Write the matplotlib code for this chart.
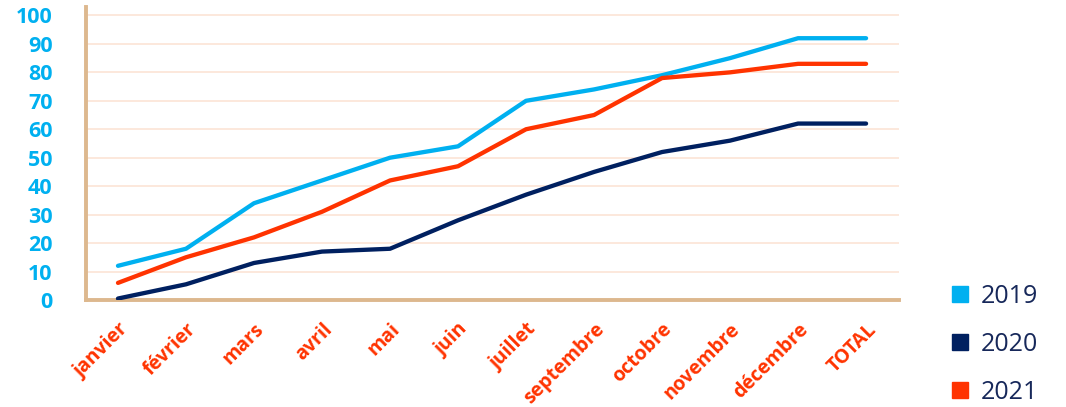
import matplotlib.pyplot as plt
from matplotlib.lines import Line2D

# data
months = ['janvier', 'février', 'mars', 'avril', 'mai', 'juin', 'juillet',
          'septembre', 'octobre', 'novembre', 'décembre', 'TOTAL']
y2019 = [12, 18, 34, 42, 50, 54, 70, 74, 79, 85, 92, 92]
y2020 = [0.5, 5.5, 13, 17, 18, 28, 37, 45, 52, 56, 62, 62]
y2021 = [6, 15, 22, 31, 42, 47, 60, 65, 78, 80, 83, 83]

c19 = '#00B0F0'
c20 = '#002060'
c21 = '#FF3300'

plt.rcParams['font.family'] = ['Open Sans', 'DejaVu Sans']

fig = plt.figure(figsize=(10.66, 4.07), dpi=100)
ax = fig.add_axes([0.0807, 0.263, 0.763, 0.72])

x = list(range(len(months)))
ax.plot(x, y2019, color=c19, lw=3.1, solid_capstyle='round', zorder=3)
ax.plot(x, y2020, color=c20, lw=3.1, solid_capstyle='round', zorder=3)
ax.plot(x, y2021, color=c21, lw=3.1, solid_capstyle='round', zorder=3)

ax.set_xlim(-0.47, 11.49)
ax.set_ylim(0, 103)
ax.set_yticks(range(0, 101, 10))
ax.set_xticks(x)
ax.set_xticklabels(months, rotation=45, ha='right', rotation_mode='anchor')

for lab in ax.get_yticklabels():
    lab.set_color(c19)
    lab.set_fontweight('bold')
    lab.set_fontsize(15.5)
for lab in ax.get_xticklabels():
    lab.set_color(c21)
    lab.set_fontweight('bold')
    lab.set_fontsize(14)

ax.tick_params(axis='both', length=0)
ax.tick_params(axis='y', pad=24)
ax.tick_params(axis='x', pad=14)

ax.grid(axis='y', color='#FCE4D6', lw=1.2, zorder=0)
ax.set_axisbelow(True)
for s in ['top', 'right']:
    ax.spines[s].set_visible(False)
for s in ['left', 'bottom']:
    ax.spines[s].set_color('#DDB88E')
    ax.spines[s].set_linewidth(2.8)

handles = [Line2D([], [], ls='none', marker='s', markersize=12, color=c)
           for c in (c19, c20, c21)]
leg = fig.legend(handles, ['2019', '2020', '2021'], loc='lower left',
                 bbox_to_anchor=(0.868, -0.05), frameon=False, fontsize=18,
                 labelspacing=0.92, handletextpad=0.3, handlelength=1.0)
for t in leg.get_texts():
    t.set_color('#17285A')

fig.savefig('out.png', dpi=100)
